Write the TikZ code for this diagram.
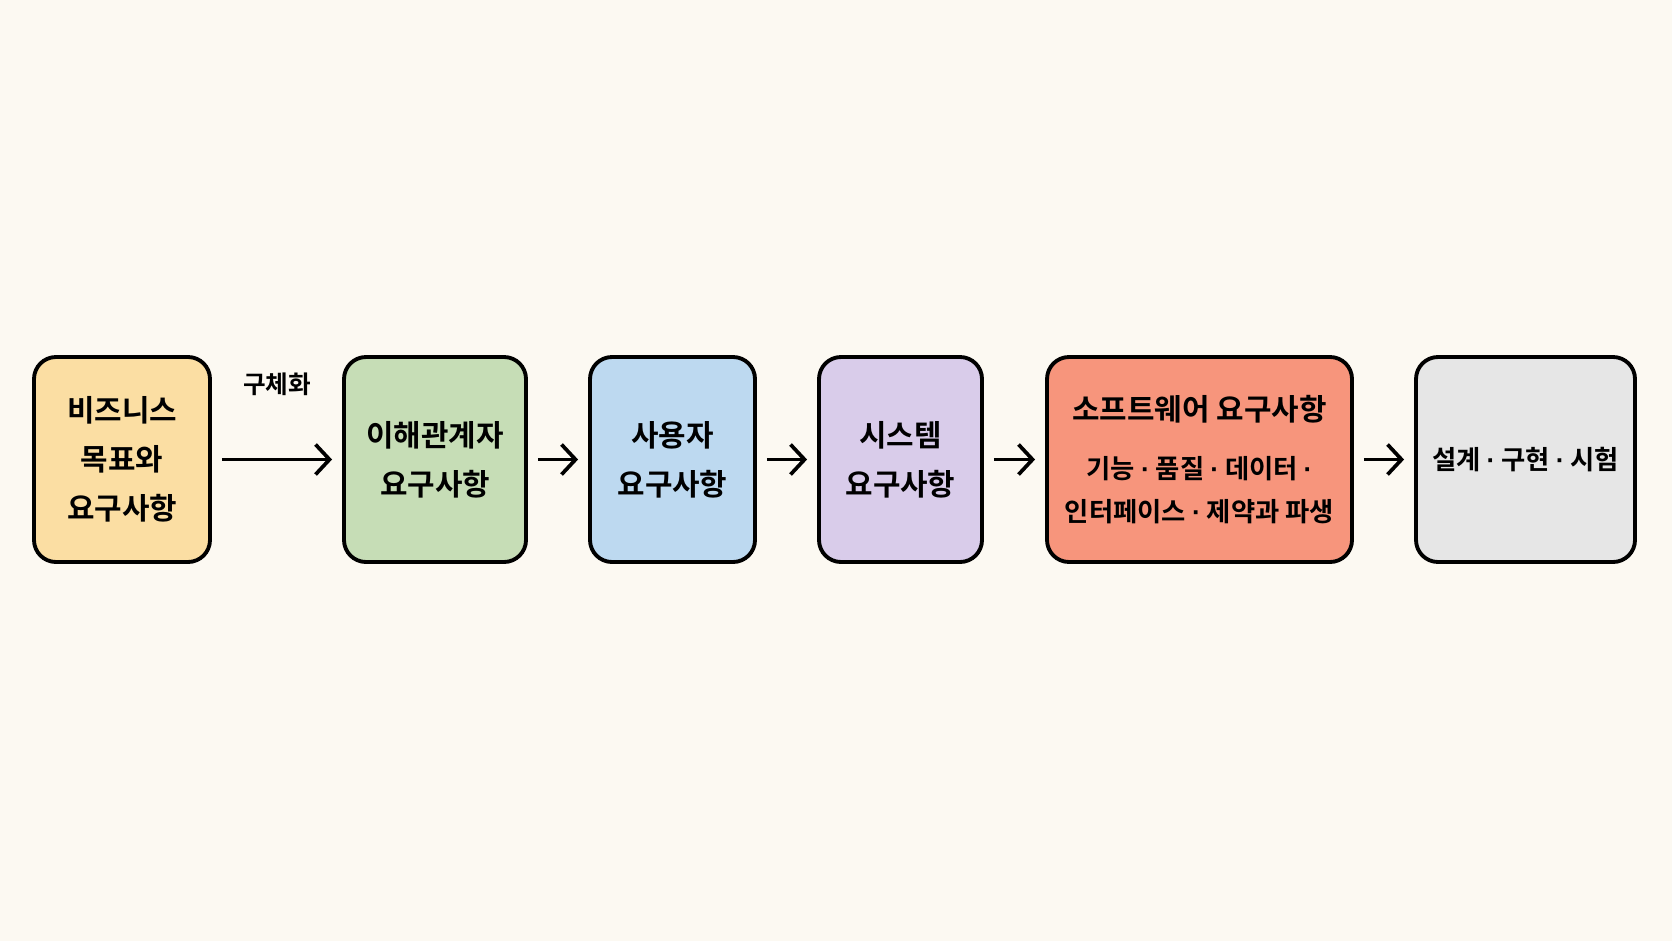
\documentclass[tikz,border=0pt]{standalone}
\usepackage{fontspec}
\setmainfont{Noto Sans CJK KR}[BoldFont={Noto Sans CJK KR Bold}]
\newfontfamily\dotfont{Liberation Sans}
\usetikzlibrary{positioning,arrows.meta}
\definecolor{bgcream}{HTML}{FCF9F2}
\definecolor{bizcol}{HTML}{FBDEA3}
\definecolor{stakecol}{HTML}{C6DDB6}
\definecolor{usercol}{HTML}{BDD9F0}
\definecolor{syscol}{HTML}{D9CCEA}
\definecolor{swcol}{HTML}{F7957C}
\definecolor{devcol}{HTML}{E6E6E6}
\tikzstyle{stepbox}=[draw=black, line width=1.1pt, rounded corners=2.2mm, minimum height=2.05cm, align=center, inner sep=0, font=\bfseries\fontsize{8.5}{14}\selectfont]
\tikzset{->,>={Straight Barb[length=1.4mm,width=3mm]}}
\newcommand{\drawbox}{\node[stepbox]}
\newcommand{\subline}{\fontsize{7.5}{12}\selectfont}
\newcommand{\middot}{{\dotfont\bfseries ·}}

\begin{document}
\begin{tikzpicture}[every path/.append style={line width=1.05pt}]
	
	\fill[bgcream] (0,0) rectangle (16.72,-9.41);
	\useasboundingbox (0,0) rectangle (16.72,-9.41);
	
	\drawbox[fill=bizcol, minimum width=1.76cm] (biz) at (1.22,-4.595) {비즈니스\\목표와\\요구사항};
	\drawbox[fill=stakecol, minimum width=1.82cm] (stake) at (4.35,-4.595) {이해관계자\\요구사항};
	\drawbox[fill=usercol, minimum width=1.65cm] (user) at (6.725,-4.595) {사용자\\요구사항};
	\drawbox[fill=syscol, minimum width=1.63cm] (sys) at (9.005,-4.595) {시스템\\요구사항};
	\drawbox[fill=swcol, minimum width=3.05cm] (sw) at (11.995,-4.595) {소프트웨어 요구사항\\[2.5pt]{\subline 기능 \middot{} 품질 \middot{} 데이터 \middot}\\[-2pt]{\subline 인터페이스 \middot{} 제약과 파생}};
	\drawbox[fill=devcol, minimum width=2.19cm, font=\bfseries\fontsize{7.5}{12}\selectfont] (dev) at (15.255,-4.595) {설계 \middot{} 구현 \middot{} 시험};
	
	\draw[->, shorten <=1mm, shorten >=1mm] (biz) to node [midway, above=5mm, font=\bfseries\fontsize{7}{10}\selectfont] {구체화} (stake);
	\draw[->, shorten <=1mm, shorten >=1mm] (stake) to (user);
	\draw[->, shorten <=1mm, shorten >=1mm] (user) to (sys);
	\draw[->, shorten <=1mm, shorten >=1mm] (sys) to (sw);
	\draw[->, shorten <=1mm, shorten >=1mm] (sw) to (dev);
	
\end{tikzpicture}
\end{document}
